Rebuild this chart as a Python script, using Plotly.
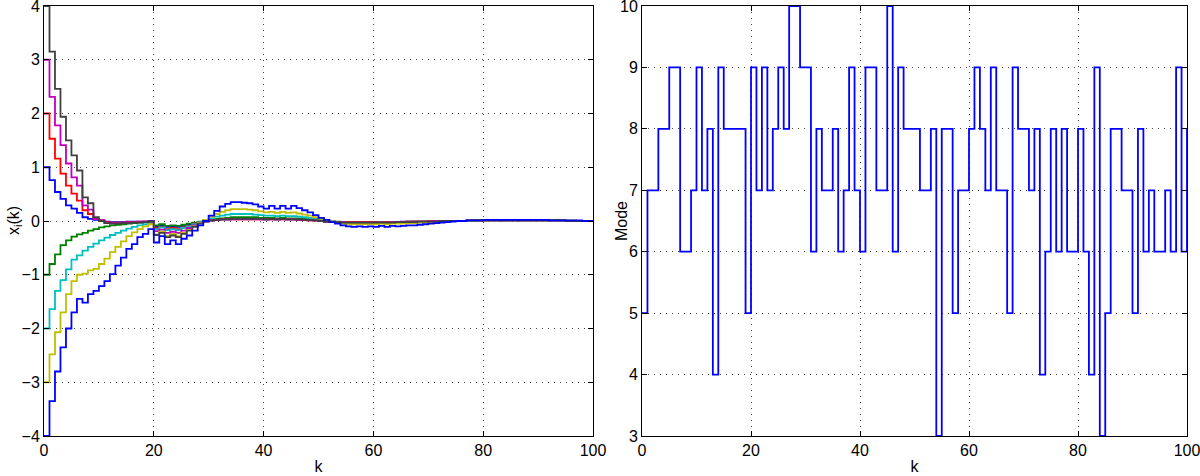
import plotly.graph_objects as go
from plotly.subplots import make_subplots

k = list(range(101))

# state trajectories x_i(k), one list per agent (k = 0..100)
x_pos1 = [1.00, 0.76, 0.54, 0.41, 0.29, 0.23, 0.15, 0.07, 0.04, 0.02,
          0.01, -0.01, -0.02, -0.02, -0.02, -0.01, -0.01, -0.01, -0.01, 0.00,
          -0.10, -0.08, -0.11, -0.10, -0.11, -0.09, -0.07, -0.04, -0.02, 0.00,
          0.01, 0.02, 0.03, 0.03, 0.04, 0.04, 0.04, 0.04, 0.04, 0.04,
          0.03, 0.04, 0.03, 0.04, 0.03, 0.03, 0.03, 0.02, 0.02, 0.01,
          0.00, -0.01, -0.01, -0.02, -0.02, -0.02, -0.02, -0.02, -0.02, -0.02,
          -0.02, -0.02, -0.02, -0.02, -0.02, -0.01, -0.01, -0.01, -0.01, -0.01,
          0.00, 0.00, 0.00, 0.00, 0.00, 0.00, 0.00, 0.01, 0.01, 0.01,
          0.01, 0.01, 0.01, 0.01, 0.01, 0.01, 0.01, 0.01, 0.01, 0.01,
          0.01, 0.01, 0.01, 0.01, 0.01, 0.00, 0.00, 0.00, 0.00, 0.00, 0.00]
x_neg1 = [-1.00, -0.80, -0.62, -0.45, -0.36, -0.29, -0.25, -0.22, -0.18, -0.15,
          -0.12, -0.10, -0.08, -0.07, -0.06, -0.05, -0.04, -0.03, -0.02, -0.01,
          -0.08, -0.06, -0.09, -0.08, -0.09, -0.07, -0.05, -0.03, -0.01, 0.01,
          0.03, 0.04, 0.05, 0.06, 0.07, 0.07, 0.07, 0.07, 0.07, 0.06,
          0.06, 0.06, 0.05, 0.06, 0.05, 0.05, 0.05, 0.04, 0.03, 0.02,
          0.01, 0.00, -0.01, -0.01, -0.02, -0.02, -0.02, -0.02, -0.02, -0.02,
          -0.02, -0.02, -0.02, -0.02, -0.02, -0.02, -0.01, -0.01, -0.01, -0.01,
          0.00, 0.00, 0.00, 0.00, 0.00, 0.00, 0.00, 0.01, 0.01, 0.01,
          0.01, 0.01, 0.01, 0.01, 0.01, 0.01, 0.01, 0.01, 0.01, 0.01,
          0.01, 0.01, 0.01, 0.01, 0.01, 0.00, 0.00, 0.00, 0.00, 0.00, 0.00]
x_pos2 = [2.00, 1.53, 1.16, 0.88, 0.66, 0.51, 0.38, 0.20, 0.13, 0.04,
          0.01, -0.02, -0.03, -0.03, -0.03, -0.02, -0.02, -0.01, -0.01, -0.01,
          -0.13, -0.11, -0.15, -0.13, -0.15, -0.12, -0.09, -0.05, -0.02, 0.00,
          0.01, 0.02, 0.03, 0.03, 0.03, 0.03, 0.03, 0.03, 0.03, 0.03,
          0.03, 0.03, 0.03, 0.03, 0.03, 0.03, 0.02, 0.02, 0.01, 0.01,
          0.00, -0.01, -0.01, -0.02, -0.02, -0.02, -0.02, -0.02, -0.02, -0.02,
          -0.02, -0.02, -0.02, -0.02, -0.02, -0.02, -0.01, -0.01, -0.01, -0.01,
          0.00, 0.00, 0.00, 0.00, 0.00, 0.00, 0.00, 0.01, 0.01, 0.01,
          0.01, 0.01, 0.01, 0.01, 0.01, 0.01, 0.01, 0.01, 0.01, 0.01,
          0.01, 0.01, 0.01, 0.01, 0.01, 0.00, 0.00, 0.00, 0.00, 0.00, 0.00]
x_neg2 = [-2.00, -1.64, -1.30, -1.10, -0.90, -0.72, -0.64, -0.55, -0.48, -0.42,
          -0.36, -0.31, -0.26, -0.22, -0.18, -0.14, -0.11, -0.08, -0.06, -0.04,
          -0.15, -0.12, -0.17, -0.15, -0.17, -0.13, -0.10, -0.06, -0.02, 0.01,
          0.05, 0.08, 0.10, 0.12, 0.13, 0.13, 0.13, 0.13, 0.12, 0.11,
          0.10, 0.10, 0.09, 0.10, 0.09, 0.09, 0.08, 0.07, 0.06, 0.04,
          0.02, 0.01, -0.01, -0.02, -0.03, -0.04, -0.04, -0.04, -0.04, -0.04,
          -0.04, -0.03, -0.04, -0.03, -0.03, -0.03, -0.03, -0.02, -0.02, -0.02,
          -0.01, -0.01, -0.01, 0.00, 0.00, 0.00, 0.00, 0.00, 0.01, 0.01,
          0.01, 0.01, 0.01, 0.01, 0.01, 0.01, 0.01, 0.01, 0.01, 0.01,
          0.01, 0.01, 0.01, 0.01, 0.01, 0.00, 0.00, 0.00, 0.00, 0.00, 0.00]
x_pos3 = [3.00, 2.31, 1.78, 1.41, 1.07, 0.81, 0.66, 0.29, 0.21, 0.04,
          0.01, -0.03, -0.04, -0.04, -0.03, -0.03, -0.02, -0.02, -0.01, -0.01,
          -0.19, -0.16, -0.22, -0.20, -0.22, -0.18, -0.13, -0.08, -0.04, -0.01,
          0.01, 0.02, 0.03, 0.03, 0.03, 0.03, 0.03, 0.03, 0.03, 0.03,
          0.03, 0.03, 0.03, 0.03, 0.03, 0.03, 0.02, 0.02, 0.01, 0.01,
          0.00, -0.01, -0.02, -0.02, -0.02, -0.03, -0.03, -0.03, -0.03, -0.03,
          -0.03, -0.03, -0.03, -0.02, -0.02, -0.02, -0.02, -0.01, -0.01, -0.01,
          -0.01, 0.00, 0.00, 0.00, 0.00, 0.00, 0.00, 0.01, 0.01, 0.01,
          0.01, 0.01, 0.01, 0.01, 0.01, 0.01, 0.01, 0.01, 0.01, 0.01,
          0.01, 0.01, 0.01, 0.01, 0.01, 0.00, 0.00, 0.00, 0.00, 0.00, 0.00]
x_neg3 = [-3.00, -2.48, -2.07, -1.70, -1.36, -1.12, -1.00, -0.98, -0.92, -0.89,
          -0.80, -0.70, -0.58, -0.48, -0.38, -0.28, -0.21, -0.15, -0.10, -0.06,
          -0.25, -0.20, -0.28, -0.24, -0.28, -0.22, -0.17, -0.10, -0.04, 0.02,
          0.08, 0.13, 0.17, 0.20, 0.22, 0.22, 0.22, 0.21, 0.20, 0.18,
          0.16, 0.17, 0.15, 0.17, 0.15, 0.16, 0.14, 0.12, 0.10, 0.07,
          0.04, 0.01, -0.01, -0.03, -0.05, -0.06, -0.06, -0.06, -0.06, -0.06,
          -0.06, -0.05, -0.06, -0.05, -0.05, -0.05, -0.04, -0.04, -0.03, -0.03,
          -0.02, -0.02, -0.01, -0.01, 0.00, 0.00, 0.00, 0.01, 0.01, 0.01,
          0.01, 0.01, 0.01, 0.02, 0.01, 0.01, 0.02, 0.01, 0.01, 0.01,
          0.01, 0.01, 0.01, 0.01, 0.01, 0.01, 0.01, 0.00, 0.00, 0.00, 0.00]
x_pos4 = [4.00, 3.15, 2.46, 1.94, 1.50, 1.22, 0.94, 0.44, 0.33, 0.07,
          0.00, -0.04, -0.05, -0.05, -0.04, -0.04, -0.03, -0.03, -0.02, -0.01,
          -0.26, -0.22, -0.30, -0.27, -0.30, -0.24, -0.18, -0.11, -0.05, -0.01,
          0.01, 0.02, 0.03, 0.03, 0.04, 0.04, 0.04, 0.04, 0.04, 0.04,
          0.03, 0.04, 0.03, 0.04, 0.03, 0.03, 0.03, 0.02, 0.02, 0.01,
          0.00, -0.01, -0.02, -0.02, -0.03, -0.03, -0.03, -0.03, -0.03, -0.03,
          -0.03, -0.03, -0.03, -0.03, -0.02, -0.02, -0.02, -0.02, -0.01, -0.01,
          -0.01, -0.01, 0.00, 0.00, 0.00, 0.00, 0.00, 0.01, 0.01, 0.01,
          0.01, 0.01, 0.01, 0.01, 0.01, 0.01, 0.01, 0.01, 0.01, 0.01,
          0.01, 0.01, 0.01, 0.01, 0.01, 0.00, 0.00, 0.00, 0.00, 0.00, 0.00]
x_neg4 = [-4.00, -3.35, -2.80, -2.35, -2.00, -1.70, -1.45, -1.52, -1.36, -1.30,
          -1.21, -1.12, -0.99, -0.83, -0.68, -0.52, -0.43, -0.30, -0.24, -0.15,
          -0.40, -0.28, -0.43, -0.36, -0.43, -0.33, -0.27, -0.18, -0.08, 0.00,
          0.10, 0.19, 0.27, 0.32, 0.35, 0.35, 0.34, 0.33, 0.31, 0.27,
          0.23, 0.28, 0.23, 0.28, 0.23, 0.28, 0.24, 0.20, 0.16, 0.11,
          0.06, 0.02, -0.02, -0.05, -0.08, -0.10, -0.11, -0.10, -0.11, -0.10,
          -0.11, -0.09, -0.11, -0.09, -0.10, -0.09, -0.08, -0.08, -0.07, -0.06,
          -0.05, -0.04, -0.03, -0.02, -0.01, 0.00, 0.00, 0.01, 0.01, 0.01,
          0.02, 0.02, 0.02, 0.02, 0.02, 0.02, 0.02, 0.02, 0.02, 0.02,
          0.02, 0.02, 0.01, 0.01, 0.01, 0.01, 0.01, 0.01, 0.00, 0.00, 0.00]

# switching signal
mode = [5, 7, 7, 8, 8, 9, 9, 6, 6, 7,
        9, 7, 8, 4, 9, 8, 8, 8, 8, 5,
        9, 7, 9, 7, 8, 9, 8, 10, 10, 9,
        9, 6, 8, 7, 7, 8, 6, 7, 9, 7,
        6, 9, 9, 7, 7, 10, 6, 9, 8, 8,
        8, 7, 7, 8, 3, 8, 8, 5, 7, 7,
        8, 9, 8, 7, 9, 7, 7, 5, 9, 8,
        8, 7, 8, 4, 6, 8, 6, 8, 6, 6,
        8, 6, 4, 9, 3, 5, 8, 8, 7, 7,
        5, 8, 6, 7, 6, 6, 7, 6, 9, 6,
        8]

# old MATLAB colour order, cycled over the 8 agents
states = [x_pos1, x_neg1, x_pos2, x_neg2, x_pos3, x_neg3, x_pos4, x_neg4]
colors = ["#0000ff", "#008000", "#ff0000", "#00bfbf", "#bf00bf", "#bfbf00", "#404040", "#0000ff"]

fig = make_subplots(rows=1, cols=2, horizontal_spacing=0.04)
for ys, c in zip(states, colors):
    fig.add_scatter(x=k, y=ys, mode="lines", line=dict(color=c, width=1.8, shape="hv"),
                    showlegend=False, row=1, col=1)
fig.add_scatter(x=k, y=mode, mode="lines", line=dict(color="#0000ff", width=1.8, shape="hv"),
                showlegend=False, row=1, col=2)

axis_style = dict(showline=True, linecolor="black", linewidth=1, mirror="ticks",
                  ticks="inside", ticklen=5, tickcolor="black", automargin=False,
                  ticklabeloverflow="allow",
                  showgrid=True, gridcolor="#444", griddash="1px,5px", gridwidth=1,
                  zeroline=False, tickfont=dict(size=16, color="black"))

fig.update_xaxes(range=[0, 100], dtick=20, domain=[44 / 1200, 593 / 1200], row=1, col=1,
                 title=dict(text="k", standoff=2, font=dict(size=16)), **axis_style)
fig.update_xaxes(range=[0, 100], dtick=20, domain=[642 / 1200, 1187 / 1200], row=1, col=2,
                 title=dict(text="k", standoff=2, font=dict(size=16)), **axis_style)
fig.update_yaxes(range=[-4, 4], dtick=1, row=1, col=1, **axis_style)
fig.update_yaxes(range=[3, 10], dtick=1, row=1, col=2, **axis_style)

# y titles sit closer to the ticks than plotly's standoff allows
fig.add_annotation(text="x<sub>i</sub>(k)", x=14 / 1200, y=0.5, xref="paper", yref="paper",
                   xanchor="center", yanchor="middle",
                   textangle=-90, showarrow=False, font=dict(size=16))
fig.add_annotation(text="Mode", x=621 / 1200, y=0.5, xref="paper", yref="paper",
                   xanchor="center", yanchor="middle",
                   textangle=-90, showarrow=False, font=dict(size=16))

fig.update_layout(width=1200, height=476, margin=dict(l=0, r=0, t=6, b=40),
                  plot_bgcolor="white", paper_bgcolor="white",
                  font=dict(family="Liberation Sans, Arial, sans-serif", size=16, color="black"))

# the page's default body margin would shift the whole figure by 8px
fig.write_html("out.html", config={"displayModeBar": False},
               post_script="document.body.style.margin = '0';")
